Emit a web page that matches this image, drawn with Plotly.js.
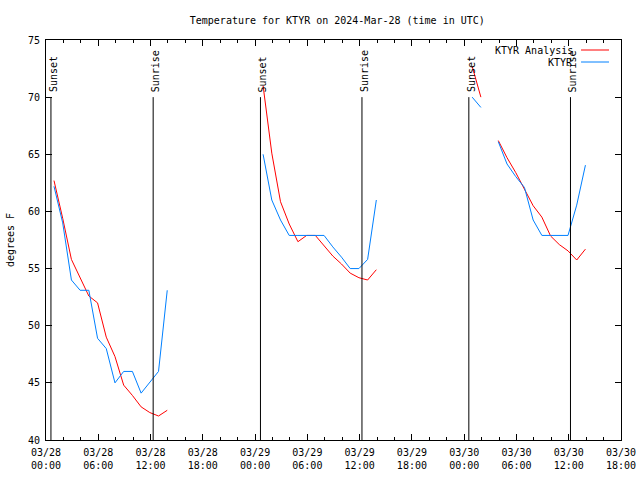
<!DOCTYPE html>
<html>
<head>
<meta charset="utf-8">
<script src="https://cdn.plot.ly/plotly-3.0.1.min.js"></script>
<style>html,body{margin:0;padding:0;background:#fff;}#chart{width:640px;height:480px;}</style>
</head>
<body>
<div id="chart"></div>
<script>
// Observation times (UTC) for each day
const timesDay1 = ['2024-03-28 00:55','2024-03-28 01:55','2024-03-28 02:55','2024-03-28 03:55','2024-03-28 04:55','2024-03-28 05:55','2024-03-28 06:55','2024-03-28 07:55','2024-03-28 08:55','2024-03-28 09:55','2024-03-28 10:55','2024-03-28 11:55','2024-03-28 12:55','2024-03-28 13:55'];
const timesDay2 = ['2024-03-29 00:55','2024-03-29 01:55','2024-03-29 02:55','2024-03-29 03:55','2024-03-29 04:55','2024-03-29 05:55','2024-03-29 06:55','2024-03-29 07:55','2024-03-29 08:55','2024-03-29 09:55','2024-03-29 10:55','2024-03-29 11:55','2024-03-29 12:55','2024-03-29 13:55'];
const timesDay3 = ['2024-03-30 00:55','2024-03-30 01:55','2024-03-30 02:55','2024-03-30 03:55','2024-03-30 04:55','2024-03-30 05:55','2024-03-30 06:55','2024-03-30 07:55','2024-03-30 08:55','2024-03-30 09:55','2024-03-30 10:55','2024-03-30 11:55','2024-03-30 12:55','2024-03-30 13:55'];

// KTYR Analysis (red)
const analysisDay1 = [62.7, 59.4, 55.8, 54.2, 52.6, 52.0, 49.0, 47.3, 44.8, 43.9, 42.9, 42.4, 42.1, 42.6];
const analysisDay2 = [71.0, 65.1, 60.85, 58.9, 57.35, 57.9, 57.9, 57.0, 56.1, 55.4, 54.6, 54.2, 54.0, 54.9];
const analysisDay3 = [72.7, 70.0, null, 66.2, 64.7, 63.4, 62.0, 60.5, 59.5, 57.85, 57.1, 56.55, 55.75, 56.7];

// KTYR observations (blue)
const obsDay1 = [62.2, 59.0, 54.0, 53.1, 53.1, 48.9, 48.0, 45.0, 46.0, 46.0, 44.1, 45.0, 46.0, 53.1];
const obsDay2 = [65.0, 61.0, 59.25, 57.9, 57.9, 57.9, 57.9, 57.9, 56.9, 56.0, 55.0, 55.0, 55.8, 61.0];
const obsDay3 = [70.0, 69.1, null, 66.1, 64.15, 63.05, 62.1, 59.25, 57.9, 57.9, 57.9, 57.9, 60.55, 64.05];

// Sun events
const sunsetTimes = ['2024-03-28 00:34','2024-03-29 00:37','2024-03-30 00:32'];
const sunriseTimes = ['2024-03-28 12:18','2024-03-29 12:16','2024-03-30 12:12'];

// X tick labels
const xTickVals = ['2024-03-28 00:00','2024-03-28 06:00','2024-03-28 12:00','2024-03-28 18:00','2024-03-29 00:00','2024-03-29 06:00','2024-03-29 12:00','2024-03-29 18:00','2024-03-30 00:00','2024-03-30 06:00','2024-03-30 12:00','2024-03-30 18:00'];
const xTickText = ['03/28<br>00:00','03/28<br>06:00','03/28<br>12:00','03/28<br>18:00','03/29<br>00:00','03/29<br>06:00','03/29<br>12:00','03/29<br>18:00','03/30<br>00:00','03/30<br>06:00','03/30<br>12:00','03/30<br>18:00'];

const seriesNames = ['KTYR Analysis', 'KTYR'];
const seriesColors = ['#ff0000', '#0080ff'];

const traces = [];
const days = [
  [timesDay1, analysisDay1, obsDay1],
  [timesDay2, analysisDay2, obsDay2],
  [timesDay3, analysisDay3, obsDay3]
];
days.forEach(function(d) {
  traces.push({x: d[0], y: d[1], type: 'scatter', mode: 'lines', name: seriesNames[0],
    line: {color: seriesColors[0], width: 1}, showlegend: false, connectgaps: false});
  traces.push({x: d[0], y: d[2], type: 'scatter', mode: 'lines', name: seriesNames[1],
    line: {color: seriesColors[1], width: 1}, showlegend: false, connectgaps: false});
});

const shapes = [];
const annotations = [];
function sunLine(t, label) {
  shapes.push({type: 'line', xref: 'x', yref: 'y', x0: t, x1: t, y0: 40, y1: 70,
    line: {color: '#000', width: 1}});
  annotations.push({x: t, y: 70, xref: 'x', yref: 'y', text: label, textangle: -90,
    showarrow: false, xanchor: 'center', yanchor: 'bottom', yshift: 3, xshift: 2,
    font: {family: 'DejaVu Sans Mono', size: 10, color: '#000'}});
}
sunsetTimes.forEach(function(t){ sunLine(t, 'Sunset'); });
sunriseTimes.forEach(function(t){ sunLine(t, 'Sunrise'); });

// gnuplot-style key (text left of sample line)
const L = 46, R = 621.5, T = 40, B = 440;
function px2x(p){ return (p - L) / (R - L); }
function py2y(p){ return (B - p) / (B - T); }
const keyRows = [50, 62];
seriesNames.forEach(function(n, i) {
  annotations.push({x: px2x(575), y: py2y(keyRows[i]), xref: 'paper', yref: 'paper', text: n,
    showarrow: false, xanchor: 'right', yanchor: 'middle',
    font: {family: 'DejaVu Sans Mono', size: 10, color: '#000'}});
  shapes.push({type: 'line', xref: 'paper', yref: 'paper', x0: px2x(581.5), x1: px2x(609.5),
    y0: py2y(keyRows[i]), y1: py2y(keyRows[i]), line: {color: seriesColors[i], width: 1}});
});

const axisCommon = {
  showline: true, linecolor: '#000', linewidth: 1, mirror: 'allticks',
  ticks: 'inside', ticklen: 6, tickcolor: '#000', tickwidth: 1,
  showgrid: false, zeroline: false,
  tickfont: {family: 'DejaVu Sans Mono', size: 10, color: '#000'}
};

const layout = {
  width: 640, height: 480,
  margin: {l: 46, r: 18.5, t: 40, b: 40},
  paper_bgcolor: '#fff', plot_bgcolor: '#fff',
  font: {family: 'DejaVu Sans Mono', size: 10, color: '#000'},
  title: {text: 'Temperature for KTYR on 2024-Mar-28 (time in UTC)', x: 0.527, xanchor: 'center',
    y: 1 - 20/480, yanchor: 'middle', font: {family: 'DejaVu Sans Mono', size: 10, color: '#000'}},
  xaxis: Object.assign({}, axisCommon, {
    type: 'date', range: ['2024-03-28 00:00', '2024-03-30 18:00'],
    tickmode: 'array', tickvals: xTickVals, ticktext: xTickText, ticklabelstandoff: 3,
    minor: {dtick: 7200000, tick0: '2024-03-28 00:00', ticks: 'inside', ticklen: 3, tickcolor: '#000', showgrid: false}
  }),
  yaxis: Object.assign({}, axisCommon, {
    range: [40, 75], dtick: 5, tick0: 40, ticklabelstandoff: 3,
    title: {text: 'degrees F', font: {family: 'DejaVu Sans Mono', size: 10, color: '#000'}, standoff: 11}
  }),
  shapes: shapes,
  annotations: annotations,
  showlegend: false
};

Plotly.newPlot('chart', traces, layout, {displayModeBar: false, staticPlot: true});
</script>
</body>
</html>
